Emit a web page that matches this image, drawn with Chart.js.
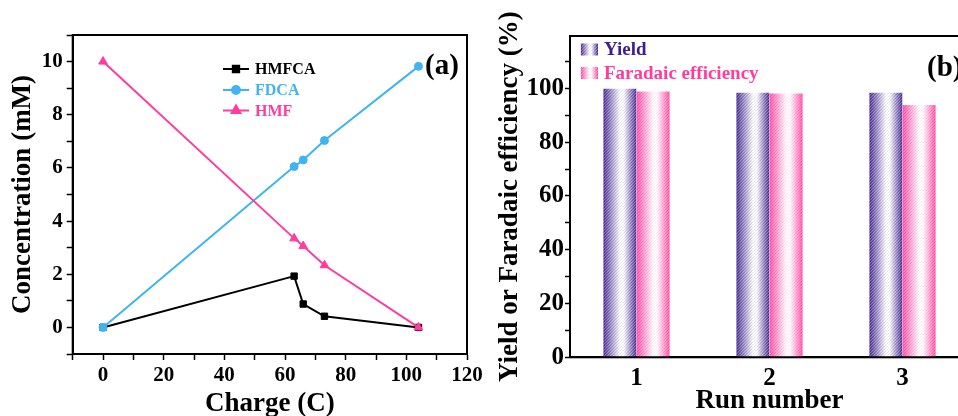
<!DOCTYPE html>
<html>
<head>
<meta charset="utf-8">
<script src="https://cdn.jsdelivr.net/npm/chart.js@4.4.0/dist/chart.umd.min.js"></script>
<style>
html, body { margin: 0; padding: 0; background: #fff; overflow: hidden; width: 958px; height: 416px; }
#wa { position: absolute; left: 0; top: 0; width: 500px; height: 430px; }
#wb { position: absolute; left: 480px; top: 0; width: 530px; height: 430px; }
</style>
</head>
<body>
<div id="wa"><canvas id="chartA"></canvas></div>
<div id="wb"><canvas id="chartB"></canvas></div>
<script>
// panel (a): concentration vs charge
const charge = [0, 63, 66, 73, 104];
const hmfca = [0, 1.93, 0.88, 0.42, 0];
const fdca = [0, 6.05, 6.3, 7.03, 9.82];
const hmf = [10, 3.35, 3.06, 2.34, 0];

// panel (b): recycling runs
const runs = ['1', '2', '3'];
const yieldPct = [99.9, 98.4, 98.4];
const faradaic = [98.9, 98.1, 93.8];

const BLACK = '#000000';
const BLUE = '#3fb4f0';
const PINK = '#ff3d9e';
const PURPLE = '#3d1f8c';
const CAT_PCT = 0.5;

Chart.defaults.font.family = '"Liberation Serif", "Times New Roman", serif';
Chart.defaults.font.weight = 'bold';
Chart.defaults.color = '#000';

function pts(ys) {
    return charge.map((c, i) => ({ x: c, y: ys[i] }));
}

// draws the chart area box
const frame = {
    id: 'frame',
    afterDraw(chart) {
        const a = chart.chartArea;
        const c = chart.ctx;
        c.save();
        c.strokeStyle = '#000';
        c.lineWidth = 2;
        c.strokeRect(a.left, a.top, a.right - a.left, a.bottom - a.top);
        c.restore();
    }
};

const legendA = {
    id: 'legendA',
    afterDraw(chart) {
        const c = chart.ctx;
        const rows = [
            ['HMFCA', BLACK, 'rect', 4.5, 69],
            ['FDCA', BLUE, 'circle', 4, 90],
            ['HMF', PINK, 'triangle', 5, 110.5]
        ];
        c.save();
        rows.forEach(r => {
            c.strokeStyle = r[1];
            c.fillStyle = r[1];
            c.lineWidth = 2;
            c.beginPath();
            c.moveTo(223, r[4]);
            c.lineTo(249, r[4]);
            c.stroke();
            Chart.helpers.drawPoint(c, { pointStyle: r[2], radius: r[3], rotation: 0, borderWidth: 1 }, 236, r[4]);
            c.fillStyle = r[1];
            c.font = 'bold 16px "Liberation Serif"';
            c.textBaseline = 'middle';
            c.textAlign = 'left';
            c.fillText(r[0], 255, r[4] + 1);
        });
        c.fillStyle = '#000';
        c.font = 'bold 29px "Liberation Serif"';
        c.fillText('(a)', 425, 67);
        c.restore();
    }
};

new Chart(document.getElementById('chartA'), {
    type: 'line',
    data: {
        datasets: [
            { label: 'HMFCA', data: pts(hmfca), borderColor: BLACK, backgroundColor: BLACK,
              pointStyle: 'rect', pointRadius: 4.5, order: 2 },
            { label: 'FDCA', data: pts(fdca), borderColor: BLUE, backgroundColor: BLUE,
              pointStyle: 'circle', pointRadius: 4, order: 1 },
            { label: 'HMF', data: pts(hmf), borderColor: PINK, backgroundColor: PINK,
              pointStyle: 'triangle', pointRadius: 5, order: 0 }
        ]
    },
    options: {
        responsive: true,
        maintainAspectRatio: false,
        animation: false,
        elements: { line: { borderWidth: 2, tension: 0 }, point: { borderWidth: 1 } },
        layout: { padding: { left: 0, top: 35, right: 33, bottom: 0 } },
        plugins: { legend: { display: false }, tooltip: { enabled: false } },
        scales: {
            x: {
                type: 'linear', min: -10, max: 120,
                ticks: {
                    stepSize: 10, autoSkip: false, maxRotation: 0, padding: 3,
                    font: { size: 21, weight: 'bold' },
                    callback: v => (v >= 0 && v % 20 === 0) ? v : ''
                },
                grid: { drawOnChartArea: false, tickLength: 6, tickColor: '#000', tickWidth: 1.5 },
                border: { color: '#000', width: 2 },
                title: { display: true, text: 'Charge (C)', font: { size: 27, weight: 'bold' },
                         padding: { top: 0, bottom: 10 } },
                afterFit: s => { s.height = 76; s.paddingLeft = 0; s.paddingRight = 0; }
            },
            y: {
                min: -1, max: 11,
                ticks: {
                    stepSize: 1, autoSkip: false, padding: 4,
                    font: { size: 21, weight: 'bold' },
                    callback: v => (v >= 0 && v <= 10 && v % 2 === 0) ? v : ''
                },
                grid: { drawOnChartArea: false, tickLength: 6, tickColor: '#000', tickWidth: 1.5 },
                border: { color: '#000', width: 2 },
                title: { display: true, text: 'Concentration (mM)', font: { size: 27, weight: 'bold' },
                         padding: { top: 7, bottom: 0 } },
                afterFit: s => { s.width = 72.7; s.paddingTop = 0; s.paddingBottom = 0; }
            }
        }
    },
    plugins: [frame, legendA]
});

// gradient + hatch fill for a band of the canvas
const fillCache = {};
function makeFill(chart, left, right, dark) {
    const key = dark + '_' + left.toFixed(1) + '_' + right.toFixed(1);
    if (fillCache[key]) return fillCache[key];
    const W = Math.ceil(chart.width), H = Math.ceil(chart.height);
    const off = document.createElement('canvas');
    off.width = W;
    off.height = H;
    const o = off.getContext('2d');
    const g = o.createLinearGradient(left, 0, right, 0);
    g.addColorStop(0, dark);
    g.addColorStop(0.5, '#ffffff');
    g.addColorStop(0.62, '#ffffff');
    g.addColorStop(1, dark);
    o.fillStyle = g;
    o.fillRect(left, 0, right - left, H);
    o.save();
    o.beginPath();
    o.rect(left, 0, right - left, H);
    o.clip();
    o.lineWidth = 1;
    o.strokeStyle = 'rgba(255,255,255,0.4)';
    o.beginPath();
    for (let s = left - H; s < right; s += 3) {
        o.moveTo(s, H);
        o.lineTo(s + H, 0);
    }
    o.stroke();
    o.strokeStyle = dark;
    o.globalAlpha = 0.12;
    o.beginPath();
    for (let s = left - H + 1.5; s < right; s += 3) {
        o.moveTo(s, H);
        o.lineTo(s + H, 0);
    }
    o.stroke();
    o.restore();
    const p = chart.ctx.createPattern(off, 'no-repeat');
    fillCache[key] = p;
    return p;
}

function barFill(context) {
    const dark = context.datasetIndex === 0 ? PURPLE : PINK;
    const chart = context.chart;
    const x = chart.scales.x;
    if (!x || context.dataIndex === undefined) return dark;
    const step = x.getPixelForValue(1) - x.getPixelForValue(0);
    const c = x.getPixelForValue(context.dataIndex);
    if (!isFinite(step) || !isFinite(c) || step <= 0) return dark;
    const w = step * CAT_PCT / 2;
    const left = c - w + context.datasetIndex * w;
    return makeFill(chart, left, left + w, dark);
}

const legendB = {
    id: 'legendB',
    afterDraw(chart) {
        const c = chart.ctx;
        const rows = [['Yield', PURPLE, 49.5], ['Faradaic efficiency', PINK, 73]];
        c.save();
        rows.forEach(r => {
            c.fillStyle = makeFill(chart, 100.7, 118, r[1]);
            c.fillRect(100.7, r[2] - 6, 17.3, 12);
            c.fillStyle = r[1];
            c.font = 'bold 19px "Liberation Serif"';
            c.textBaseline = 'middle';
            c.textAlign = 'left';
            c.fillText(r[0], 124, r[2] + 1);
        });
        c.fillStyle = '#000';
        c.font = 'bold 29px "Liberation Serif"';
        c.fillText('(b)', 447, 69);
        c.restore();
    }
};

new Chart(document.getElementById('chartB'), {
    type: 'bar',
    data: {
        labels: runs,
        datasets: [
            { label: 'Yield', data: yieldPct, backgroundColor: barFill, borderWidth: 0 },
            { label: 'Faradaic efficiency', data: faradaic, backgroundColor: barFill, borderWidth: 0 }
        ]
    },
    options: {
        responsive: true,
        maintainAspectRatio: false,
        animation: false,
        categoryPercentage: CAT_PCT,
        barPercentage: 1,
        layout: { padding: { left: 0, top: 36, right: 41, bottom: 0 } },
        plugins: { legend: { display: false }, tooltip: { enabled: false } },
        scales: {
            x: {
                ticks: { padding: 6, maxRotation: 0, font: { size: 25, weight: 'bold' } },
                grid: { display: false, drawTicks: false },
                border: { color: '#000', width: 2 },
                title: { display: true, text: 'Run number', font: { size: 27, weight: 'bold' },
                         padding: { top: 0, bottom: 13 } },
                afterFit: s => { s.height = 72.7; s.paddingLeft = 0; s.paddingRight = 0; }
            },
            y: {
                min: 0, max: 119.5,
                ticks: {
                    stepSize: 10, autoSkip: false, includeBounds: false, padding: 1,
                    font: { size: 25, weight: 'bold' },
                    callback: v => (v % 20 === 0 && v <= 100) ? v : ''
                },
                grid: { drawOnChartArea: false, tickLength: 5, tickColor: '#000', tickWidth: 1.5 },
                border: { color: '#000', width: 2 },
                title: { display: true, text: 'Yield or Faradaic efficiency (%)', font: { size: 27, weight: 'bold' },
                         padding: { top: 14, bottom: 0 } },
                afterFit: s => { s.width = 90; s.paddingTop = 0; s.paddingBottom = 0; }
            }
        }
    },
    plugins: [frame, legendB]
});
</script>
</body>
</html>
